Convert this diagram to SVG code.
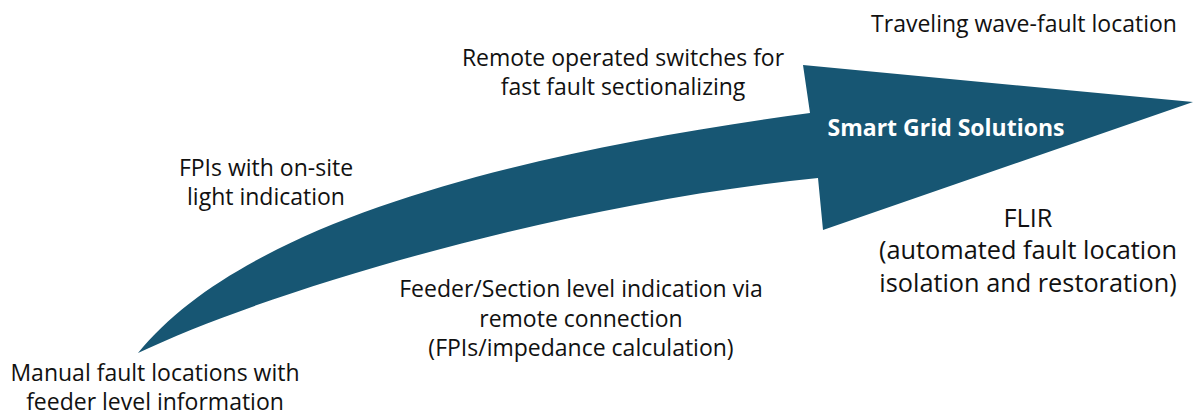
<svg xmlns="http://www.w3.org/2000/svg" width="1194" height="416" viewBox="0 0 1194 416">
  <style>
    .lbl { font-family: "Open Sans", "Liberation Sans", sans-serif; font-size: 23px; fill: #111111; text-anchor: middle; }
    .big { font-size: 25.3px; }
    .head { font-family: "Open Sans", "Liberation Sans", sans-serif; font-size: 23px; font-weight: bold; fill: #ffffff; text-anchor: middle; }
    .arrow { fill: #175673; }
  </style>
  <rect width="1194" height="416" fill="#ffffff"/>
  <g id="arrow">
    <path class="arrow" d="M138,353 C250,215 540,150 810,113 L803,65 L1193,102 L823,230 L818,178 C560,204 270,290 138,353 Z"/>
    <text class="head" x="946" y="136">Smart Grid Solutions</text>
  </g>
  <g id="manual">
    <text class="lbl" x="155" y="381">Manual fault locations with</text>
    <text class="lbl" x="155" y="410">feeder level information</text>
  </g>
  <g id="fpis">
    <text class="lbl" x="266" y="176">FPIs with on-site</text>
    <text class="lbl" x="266" y="205">light indication</text>
  </g>
  <g id="feeder">
    <text class="lbl" x="581" y="297">Feeder/Section level indication via</text>
    <text class="lbl" x="581" y="327">remote connection</text>
    <text class="lbl" x="581" y="356">(FPIs/impedance calculation)</text>
  </g>
  <g id="remote">
    <text class="lbl" x="623" y="66">Remote operated switches for</text>
    <text class="lbl" x="623" y="95">fast fault sectionalizing</text>
  </g>
  <g id="traveling">
    <text class="lbl" x="1024" y="32">Traveling wave-fault location</text>
  </g>
  <g id="flir">
    <text class="lbl big" x="1028" y="227">FLIR</text>
    <text class="lbl big" x="1028" y="259">(automated fault location</text>
    <text class="lbl big" x="1028" y="292">isolation and restoration)</text>
  </g>
</svg>
